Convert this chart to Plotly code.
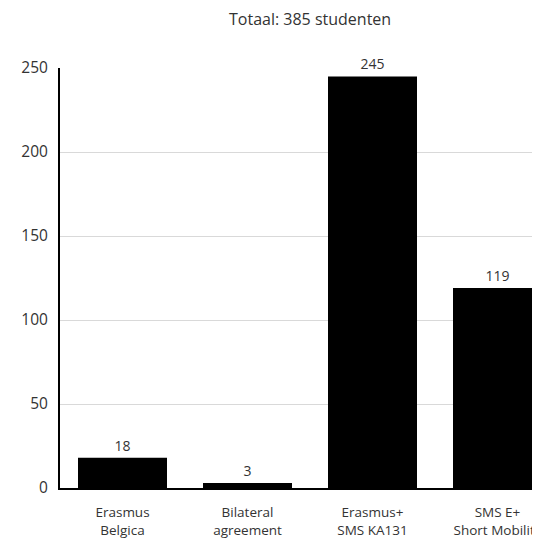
import plotly.graph_objects as go

categories = ["Erasmus<br>Belgica", "Bilateral<br>agreement", "Erasmus+<br>SMS KA131", "SMS E+<br>Short Mobility"]
values = [18, 3, 245, 119]
y_ticks = [0, 50, 100, 150, 200, 250]

font_family = "Open Sans, Lato, sans-serif"

fig = go.Figure(go.Bar(
    x=list(range(len(categories))),
    y=values,
    marker=dict(color="#000000", line=dict(width=0)),
    width=0.712,
    text=[str(v) for v in values],
    textposition="outside",
    textfont=dict(family=font_family, size=14, color="#333333"),
    cliponaxis=False,
))

fig.update_layout(
    width=532, height=532,
    margin=dict(l=52, r=0, t=60, b=52, autoexpand=False),
    paper_bgcolor="white", plot_bgcolor="white",
    showlegend=False,
    font=dict(family=font_family, color="#333333"),
    annotations=[dict(
        text="Totaal: 385 studenten", xref="paper", yref="paper",
        x=0.52, y=1, yshift=49, xanchor="center", yanchor="middle",
        showarrow=False, font=dict(size=16, color="#333333", family=font_family),
    )],
)
fig.update_xaxes(
    tickmode="array", tickvals=list(range(len(categories))), ticktext=categories,
    range=[-0.5, 3.34], showgrid=False, zeroline=False,
    showline=True, linecolor="#000000", linewidth=2,
    ticks="", ticklabelstandoff=11, automargin=False, ticklabeloverflow="allow",
    tickfont=dict(size=13.5, color="#333333"),
)
fig.update_yaxes(
    tickmode="array", tickvals=y_ticks, range=[0, 250],
    showgrid=True, gridcolor="#d9d9d9", gridwidth=1, zeroline=False,
    showline=True, linecolor="#000000", linewidth=2,
    ticks="", ticklabelstandoff=7, automargin=False,
    tickfont=dict(size=15.5, color="#333333"),
)

fig.write_html("out.html")
